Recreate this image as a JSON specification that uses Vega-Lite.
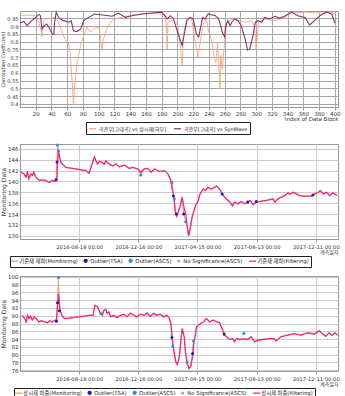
{
  "$schema": "https://vega.github.io/schema/vega-lite/v6.json",
  "padding": {"left": 0, "right": 4, "top": 9, "bottom": 0},
  "spacing": 37,
  "bounds": "flush",
  "datasets": {
    "corrA": [
      {"i": 0, "v": 0.967}, {"i": 7, "v": 0.97}, {"i": 15, "v": 0.97}, {"i": 20, "v": 0.965}, {"i": 23, "v": 0.935}, {"i": 26, "v": 0.893}, {"i": 28, "v": 0.83}, {"i": 30, "v": 0.925}, {"i": 34, "v": 0.946}, {"i": 38, "v": 0.95}, {"i": 45, "v": 0.956}, {"i": 49, "v": 0.925}, {"i": 53, "v": 0.87}, {"i": 58, "v": 0.807}, {"i": 62, "v": 0.785}, {"i": 64, "v": 0.71}, {"i": 66, "v": 0.561}, {"i": 68, "v": 0.39}, {"i": 69, "v": 0.497}, {"i": 72, "v": 0.647}, {"i": 77, "v": 0.775}, {"i": 81, "v": 0.839}, {"i": 85, "v": 0.893}, {"i": 89, "v": 0.86}, {"i": 95, "v": 0.886}, {"i": 100, "v": 0.893}, {"i": 102, "v": 0.839}, {"i": 104, "v": 0.743}, {"i": 106, "v": 0.817}, {"i": 110, "v": 0.88}, {"i": 115, "v": 0.925}, {"i": 121, "v": 0.946}, {"i": 129, "v": 0.956}, {"i": 142, "v": 0.97}, {"i": 159, "v": 0.978}, {"i": 176, "v": 0.984}, {"i": 184, "v": 0.967}, {"i": 186, "v": 0.9}, {"i": 187, "v": 0.753}, {"i": 188, "v": 0.925}, {"i": 193, "v": 0.935}, {"i": 199, "v": 0.925}, {"i": 203, "v": 0.817}, {"i": 206, "v": 0.647}, {"i": 208, "v": 0.86}, {"i": 212, "v": 0.946}, {"i": 218, "v": 0.95}, {"i": 222, "v": 0.817}, {"i": 226, "v": 0.7}, {"i": 229, "v": 0.796}, {"i": 232, "v": 0.903}, {"i": 237, "v": 0.946}, {"i": 239, "v": 0.88}, {"i": 244, "v": 0.796}, {"i": 247, "v": 0.69}, {"i": 249, "v": 0.668}, {"i": 251, "v": 0.796}, {"i": 253, "v": 0.604}, {"i": 254, "v": 0.5}, {"i": 255, "v": 0.71}, {"i": 257, "v": 0.625}, {"i": 260, "v": 0.796}, {"i": 263, "v": 0.925}, {"i": 269, "v": 0.946}, {"i": 277, "v": 0.935}, {"i": 286, "v": 0.925}, {"i": 294, "v": 0.935}, {"i": 298, "v": 0.893}, {"i": 300, "v": 0.753}, {"i": 303, "v": 0.925}, {"i": 311, "v": 0.946}, {"i": 324, "v": 0.935}, {"i": 336, "v": 0.956}, {"i": 345, "v": 0.984}, {"i": 362, "v": 0.99}, {"i": 379, "v": 0.984}, {"i": 396, "v": 0.99}, {"i": 400, "v": 0.978}
    ],
    "corrB": [
      {"i": 0, "v": 0.92}, {"i": 5, "v": 0.93}, {"i": 9, "v": 0.903}, {"i": 15, "v": 0.935}, {"i": 20, "v": 0.956}, {"i": 24, "v": 0.975}, {"i": 26, "v": 0.967}, {"i": 28, "v": 0.88}, {"i": 30, "v": 0.9}, {"i": 34, "v": 0.914}, {"i": 38, "v": 0.88}, {"i": 41, "v": 0.85}, {"i": 43, "v": 0.845}, {"i": 44, "v": 0.925}, {"i": 46, "v": 0.99}, {"i": 49, "v": 0.956}, {"i": 55, "v": 0.935}, {"i": 62, "v": 0.925}, {"i": 65, "v": 0.935}, {"i": 68, "v": 0.87}, {"i": 72, "v": 0.865}, {"i": 77, "v": 0.88}, {"i": 81, "v": 0.935}, {"i": 87, "v": 0.956}, {"i": 95, "v": 0.978}, {"i": 108, "v": 0.97}, {"i": 117, "v": 0.963}, {"i": 125, "v": 0.984}, {"i": 134, "v": 0.956}, {"i": 142, "v": 0.967}, {"i": 155, "v": 0.978}, {"i": 167, "v": 0.984}, {"i": 180, "v": 0.99}, {"i": 184, "v": 0.967}, {"i": 187, "v": 0.946}, {"i": 191, "v": 0.967}, {"i": 195, "v": 0.946}, {"i": 199, "v": 0.88}, {"i": 203, "v": 0.817}, {"i": 206, "v": 0.775}, {"i": 208, "v": 0.83}, {"i": 212, "v": 0.935}, {"i": 216, "v": 0.956}, {"i": 220, "v": 0.946}, {"i": 224, "v": 0.85}, {"i": 227, "v": 0.83}, {"i": 229, "v": 0.88}, {"i": 232, "v": 0.956}, {"i": 235, "v": 0.946}, {"i": 239, "v": 0.978}, {"i": 248, "v": 0.967}, {"i": 252, "v": 0.95}, {"i": 255, "v": 0.903}, {"i": 257, "v": 0.86}, {"i": 260, "v": 0.83}, {"i": 261, "v": 0.893}, {"i": 264, "v": 0.935}, {"i": 267, "v": 0.903}, {"i": 269, "v": 0.925}, {"i": 273, "v": 0.946}, {"i": 277, "v": 0.935}, {"i": 281, "v": 0.903}, {"i": 286, "v": 0.817}, {"i": 289, "v": 0.747}, {"i": 292, "v": 0.753}, {"i": 296, "v": 0.839}, {"i": 299, "v": 0.925}, {"i": 303, "v": 0.935}, {"i": 307, "v": 0.925}, {"i": 311, "v": 0.956}, {"i": 317, "v": 0.946}, {"i": 324, "v": 0.963}, {"i": 330, "v": 0.95}, {"i": 336, "v": 0.963}, {"i": 345, "v": 0.99}, {"i": 353, "v": 0.967}, {"i": 362, "v": 0.956}, {"i": 368, "v": 0.907}, {"i": 374, "v": 0.935}, {"i": 381, "v": 0.967}, {"i": 389, "v": 0.99}, {"i": 396, "v": 0.978}, {"i": 400, "v": 0.92}
    ],
    "mid": [
      {"d": "2016-04-21", "f": 141.8, "r": 141.8}, {"d": "2016-04-28", "f": 141.4, "r": 141.4}, {"d": "2016-05-02", "f": 140.8, "r": 140.8}, {"d": "2016-05-05", "f": 141.7, "r": 141.7}, {"d": "2016-05-08", "f": 140.5, "r": 140.5}, {"d": "2016-05-12", "f": 141.4, "r": 141.4}, {"d": "2016-05-15", "f": 141.1, "r": 141.1}, {"d": "2016-05-18", "f": 141.7, "r": 141.7}, {"d": "2016-05-22", "f": 140.8, "r": 140.8}, {"d": "2016-05-29", "f": 140.2, "r": 140.2}, {"d": "2016-06-04", "f": 140.3, "r": 140.3}, {"d": "2016-06-11", "f": 140.2, "r": 140.2}, {"d": "2016-06-18", "f": 139.8, "r": 139.8}, {"d": "2016-06-25", "f": 140.2, "r": 140.2}, {"d": "2016-06-28", "f": 140.0, "r": 140.0}, {"d": "2016-07-02", "f": 140.2, "r": 140.2}, {"d": "2016-07-04", "f": 140.4, "r": 143.6}, {"d": "2016-07-05", "f": 143.4, "r": 146.7}, {"d": "2016-07-07", "f": 145.4, "r": 145.6}, {"d": "2016-07-10", "f": 144.2, "r": 144.2}, {"d": "2016-07-12", "f": 143.5, "r": 143.5}, {"d": "2016-07-22", "f": 142.6, "r": 142.6}, {"d": "2016-09-01", "f": 142.0, "r": 142.0}, {"d": "2016-09-07", "f": 141.5, "r": 141.5}, {"d": "2016-09-18", "f": 144.5, "r": 144.5}, {"d": "2016-09-21", "f": 143.8, "r": 143.8}, {"d": "2016-09-24", "f": 143.2, "r": 143.2}, {"d": "2016-09-28", "f": 143.7, "r": 143.7}, {"d": "2016-10-04", "f": 143.5, "r": 143.5}, {"d": "2016-10-08", "f": 143.2, "r": 143.2}, {"d": "2016-10-11", "f": 143.8, "r": 143.8}, {"d": "2016-10-18", "f": 143.2, "r": 143.2}, {"d": "2016-10-25", "f": 142.9, "r": 142.9}, {"d": "2016-11-01", "f": 143.2, "r": 143.2}, {"d": "2016-11-07", "f": 142.7, "r": 142.7}, {"d": "2016-11-18", "f": 143.0, "r": 143.0}, {"d": "2016-11-28", "f": 142.4, "r": 142.4}, {"d": "2016-12-04", "f": 142.6, "r": 142.6}, {"d": "2016-12-15", "f": 142.3, "r": 142.3}, {"d": "2016-12-21", "f": 141.7, "r": 141.2}, {"d": "2016-12-28", "f": 142.3, "r": 142.3}, {"d": "2017-01-04", "f": 142.4, "r": 142.4}, {"d": "2017-01-11", "f": 141.7, "r": 141.7}, {"d": "2017-01-18", "f": 142.3, "r": 142.3}, {"d": "2017-01-28", "f": 141.8, "r": 141.8}, {"d": "2017-02-07", "f": 142.0, "r": 142.0}, {"d": "2017-02-14", "f": 141.4, "r": 141.4}, {"d": "2017-02-17", "f": 140.8, "r": 140.8}, {"d": "2017-02-20", "f": 140.2, "r": 140.2}, {"d": "2017-02-22", "f": 138.9, "r": 139.8}, {"d": "2017-02-25", "f": 137.7, "r": 137.7}, {"d": "2017-02-27", "f": 136.2, "r": 136.8}, {"d": "2017-03-01", "f": 134.4, "r": 134.4}, {"d": "2017-03-04", "f": 133.6, "r": 133.6}, {"d": "2017-03-07", "f": 134.4, "r": 134.4}, {"d": "2017-03-11", "f": 135.5, "r": 135.5}, {"d": "2017-03-15", "f": 137.1, "r": 137.1}, {"d": "2017-03-18", "f": 135.5, "r": 134.0}, {"d": "2017-03-22", "f": 134.0, "r": 132.6}, {"d": "2017-03-25", "f": 131.9, "r": 131.9}, {"d": "2017-03-28", "f": 130.0, "r": 130.0}, {"d": "2017-03-31", "f": 131.2, "r": 131.2}, {"d": "2017-04-04", "f": 133.4, "r": 133.4}, {"d": "2017-04-08", "f": 134.6, "r": 134.6}, {"d": "2017-04-12", "f": 135.8, "r": 135.8}, {"d": "2017-04-16", "f": 136.3, "r": 136.3}, {"d": "2017-04-19", "f": 137.4, "r": 137.4}, {"d": "2017-04-22", "f": 138.0, "r": 138.0}, {"d": "2017-04-27", "f": 138.6, "r": 138.6}, {"d": "2017-05-01", "f": 138.3, "r": 138.3}, {"d": "2017-05-06", "f": 138.9, "r": 138.9}, {"d": "2017-05-13", "f": 138.6, "r": 138.6}, {"d": "2017-05-20", "f": 138.9, "r": 138.9}, {"d": "2017-05-24", "f": 139.2, "r": 139.2}, {"d": "2017-05-30", "f": 138.6, "r": 138.6}, {"d": "2017-06-04", "f": 137.7, "r": 137.7}, {"d": "2017-06-09", "f": 137.1, "r": 137.1}, {"d": "2017-06-16", "f": 136.5, "r": 136.5}, {"d": "2017-06-20", "f": 136.2, "r": 136.2}, {"d": "2017-06-25", "f": 135.5, "r": 135.5}, {"d": "2017-06-29", "f": 136.2, "r": 136.2}, {"d": "2017-07-06", "f": 135.9, "r": 135.9}, {"d": "2017-07-13", "f": 136.3, "r": 136.3}, {"d": "2017-07-20", "f": 135.9, "r": 135.9}, {"d": "2017-07-26", "f": 136.2, "r": 136.2}, {"d": "2017-07-31", "f": 136.5, "r": 136.5}, {"d": "2017-08-06", "f": 135.7, "r": 135.7}, {"d": "2017-08-12", "f": 136.2, "r": 136.2}, {"d": "2017-09-02", "f": 136.5, "r": 136.5}, {"d": "2017-09-15", "f": 136.8, "r": 136.8}, {"d": "2017-09-19", "f": 136.2, "r": 136.2}, {"d": "2017-09-25", "f": 136.8, "r": 136.8}, {"d": "2017-10-09", "f": 137.4, "r": 137.4}, {"d": "2017-10-16", "f": 137.9, "r": 137.9}, {"d": "2017-10-19", "f": 137.6, "r": 137.6}, {"d": "2017-10-26", "f": 138.0, "r": 138.0}, {"d": "2017-11-02", "f": 137.7, "r": 137.7}, {"d": "2017-11-08", "f": 137.4, "r": 137.4}, {"d": "2017-11-15", "f": 137.3, "r": 137.3}, {"d": "2017-12-02", "f": 137.3, "r": 137.3}, {"d": "2017-12-09", "f": 137.7, "r": 137.7}, {"d": "2017-12-16", "f": 138.0, "r": 138.0}, {"d": "2017-12-20", "f": 138.3, "r": 138.3}, {"d": "2017-12-26", "f": 137.7, "r": 137.7}, {"d": "2018-01-02", "f": 138.0, "r": 138.0}, {"d": "2018-01-08", "f": 137.4, "r": 137.4}, {"d": "2018-01-15", "f": 137.9, "r": 137.9}, {"d": "2018-01-23", "f": 137.4, "r": 137.4}
    ],
    "midOut": [
      {"d": "2016-07-02", "v": 140.3, "s": "Outlier(TSA)"}, {"d": "2016-07-04", "v": 143.6, "s": "Outlier(TSA)"}, {"d": "2016-07-05", "v": 146.7, "s": "Outlier(ASCS)"}, {"d": "2016-07-07", "v": 145.6, "s": "Outlier(ASCS)"}, {"d": "2016-12-21", "v": 141.2, "s": "Outlier(ASCS)"}, {"d": "2017-02-22", "v": 139.8, "s": "Outlier(ASCS)"}, {"d": "2017-02-25", "v": 137.3, "s": "Outlier(TSA)"}, {"d": "2017-02-27", "v": 136.8, "s": "Outlier(ASCS)"}, {"d": "2017-03-03", "v": 134.0, "s": "Outlier(TSA)"}, {"d": "2017-03-18", "v": 134.0, "s": "Outlier(TSA)"}, {"d": "2017-03-22", "v": 132.6, "s": "Outlier(ASCS)"}, {"d": "2017-06-04", "v": 137.7, "s": "Outlier(TSA)"}, {"d": "2017-07-26", "v": 136.2, "s": "Outlier(TSA)"}, {"d": "2017-08-12", "v": 136.3, "s": "Outlier(TSA)"}, {"d": "2017-12-05", "v": 137.5, "s": "Outlier(TSA)"}
    ],
    "bot": [
      {"d": "2016-04-25", "f": 90.1, "r": 90.1}, {"d": "2016-04-27", "f": 89.7, "r": 89.7}, {"d": "2016-05-01", "f": 88.9, "r": 88.9}, {"d": "2016-05-03", "f": 88.2, "r": 88.2}, {"d": "2016-05-05", "f": 90.1, "r": 90.1}, {"d": "2016-05-08", "f": 89.3, "r": 89.3}, {"d": "2016-05-11", "f": 89.9, "r": 89.9}, {"d": "2016-05-15", "f": 88.9, "r": 88.9}, {"d": "2016-05-19", "f": 89.7, "r": 89.7}, {"d": "2016-05-23", "f": 89.3, "r": 89.3}, {"d": "2016-05-28", "f": 88.4, "r": 88.4}, {"d": "2016-06-02", "f": 88.7, "r": 88.7}, {"d": "2016-06-09", "f": 88.4, "r": 88.4}, {"d": "2016-06-15", "f": 88.2, "r": 88.2}, {"d": "2016-06-19", "f": 88.7, "r": 88.7}, {"d": "2016-06-24", "f": 88.4, "r": 88.4}, {"d": "2016-07-01", "f": 88.9, "r": 88.9}, {"d": "2016-07-03", "f": 89.0, "r": 88.6}, {"d": "2016-07-05", "f": 92.3, "r": 93.3}, {"d": "2016-07-07", "f": 95.7, "r": 99.8}, {"d": "2016-07-09", "f": 93.1, "r": 91.3}, {"d": "2016-07-11", "f": 91.0, "r": 91.0}, {"d": "2016-07-14", "f": 90.1, "r": 90.1}, {"d": "2016-07-19", "f": 89.3, "r": 89.3}, {"d": "2016-07-29", "f": 89.4, "r": 89.4}, {"d": "2016-08-18", "f": 89.7, "r": 89.7}, {"d": "2016-09-07", "f": 90.1, "r": 90.1}, {"d": "2016-09-15", "f": 90.1, "r": 90.1}, {"d": "2016-09-19", "f": 92.7, "r": 92.7}, {"d": "2016-09-24", "f": 92.3, "r": 92.3}, {"d": "2016-09-29", "f": 91.0, "r": 91.0}, {"d": "2016-10-04", "f": 90.1, "r": 90.1}, {"d": "2016-10-07", "f": 91.4, "r": 91.4}, {"d": "2016-10-11", "f": 91.6, "r": 91.6}, {"d": "2016-10-14", "f": 90.6, "r": 90.6}, {"d": "2016-10-17", "f": 91.0, "r": 91.0}, {"d": "2016-10-21", "f": 89.7, "r": 89.7}, {"d": "2016-10-27", "f": 90.1, "r": 90.1}, {"d": "2016-11-03", "f": 89.5, "r": 89.5}, {"d": "2016-11-10", "f": 90.1, "r": 90.1}, {"d": "2016-11-17", "f": 90.4, "r": 90.4}, {"d": "2016-11-23", "f": 89.7, "r": 89.7}, {"d": "2016-11-30", "f": 90.7, "r": 90.7}, {"d": "2016-12-07", "f": 90.1, "r": 90.1}, {"d": "2016-12-13", "f": 89.7, "r": 89.7}, {"d": "2016-12-20", "f": 90.4, "r": 90.4}, {"d": "2016-12-27", "f": 90.1, "r": 90.1}, {"d": "2017-01-03", "f": 90.7, "r": 90.7}, {"d": "2017-01-09", "f": 89.8, "r": 89.8}, {"d": "2017-01-16", "f": 90.6, "r": 90.6}, {"d": "2017-01-23", "f": 90.1, "r": 90.1}, {"d": "2017-01-29", "f": 90.4, "r": 90.4}, {"d": "2017-02-05", "f": 89.7, "r": 89.7}, {"d": "2017-02-12", "f": 90.1, "r": 90.1}, {"d": "2017-02-17", "f": 89.3, "r": 89.3}, {"d": "2017-02-20", "f": 88.0, "r": 88.0}, {"d": "2017-02-22", "f": 85.4, "r": 84.4}, {"d": "2017-02-24", "f": 82.9, "r": 82.2}, {"d": "2017-02-27", "f": 80.3, "r": 80.3}, {"d": "2017-03-02", "f": 78.1, "r": 78.1}, {"d": "2017-03-05", "f": 77.5, "r": 77.5}, {"d": "2017-03-09", "f": 79.4, "r": 79.4}, {"d": "2017-03-12", "f": 83.3, "r": 83.3}, {"d": "2017-03-15", "f": 86.7, "r": 86.7}, {"d": "2017-03-19", "f": 84.6, "r": 84.6}, {"d": "2017-03-22", "f": 80.3, "r": 80.3}, {"d": "2017-03-25", "f": 77.7, "r": 78.1}, {"d": "2017-03-29", "f": 76.4, "r": 76.4}, {"d": "2017-04-01", "f": 76.9, "r": 76.9}, {"d": "2017-04-05", "f": 79.4, "r": 80.3}, {"d": "2017-04-07", "f": 82.4, "r": 83.5}, {"d": "2017-04-10", "f": 84.6, "r": 84.6}, {"d": "2017-04-13", "f": 87.1, "r": 87.1}, {"d": "2017-04-17", "f": 87.6, "r": 87.6}, {"d": "2017-04-22", "f": 88.0, "r": 88.0}, {"d": "2017-04-27", "f": 88.4, "r": 88.4}, {"d": "2017-05-03", "f": 89.3, "r": 89.3}, {"d": "2017-05-10", "f": 88.4, "r": 88.4}, {"d": "2017-05-17", "f": 88.9, "r": 88.9}, {"d": "2017-05-24", "f": 88.4, "r": 88.4}, {"d": "2017-05-30", "f": 88.2, "r": 88.2}, {"d": "2017-06-04", "f": 86.7, "r": 86.7}, {"d": "2017-06-08", "f": 85.0, "r": 85.3}, {"d": "2017-06-13", "f": 84.6, "r": 84.6}, {"d": "2017-06-19", "f": 83.9, "r": 83.9}, {"d": "2017-06-26", "f": 84.1, "r": 84.1}, {"d": "2017-06-29", "f": 83.3, "r": 83.3}, {"d": "2017-07-03", "f": 84.1, "r": 84.1}, {"d": "2017-07-10", "f": 83.9, "r": 83.9}, {"d": "2017-07-16", "f": 84.1, "r": 84.1}, {"d": "2017-07-26", "f": 83.9, "r": 83.9}, {"d": "2017-08-02", "f": 84.6, "r": 84.6}, {"d": "2017-08-09", "f": 83.3, "r": 83.3}, {"d": "2017-08-15", "f": 83.7, "r": 83.7}, {"d": "2017-09-05", "f": 84.1, "r": 84.1}, {"d": "2017-09-18", "f": 84.1, "r": 84.1}, {"d": "2017-09-21", "f": 83.5, "r": 83.5}, {"d": "2017-10-01", "f": 84.6, "r": 84.6}, {"d": "2017-10-15", "f": 85.0, "r": 85.0}, {"d": "2017-10-28", "f": 85.4, "r": 85.4}, {"d": "2017-11-11", "f": 85.0, "r": 85.0}, {"d": "2017-11-24", "f": 85.6, "r": 85.6}, {"d": "2017-12-08", "f": 85.3, "r": 85.3}, {"d": "2017-12-18", "f": 86.1, "r": 86.1}, {"d": "2017-12-24", "f": 85.4, "r": 85.4}, {"d": "2017-12-31", "f": 84.7, "r": 84.7}, {"d": "2018-01-07", "f": 85.6, "r": 85.6}, {"d": "2018-01-13", "f": 85.0, "r": 85.0}, {"d": "2018-01-19", "f": 85.6, "r": 85.6}, {"d": "2018-01-24", "f": 85.0, "r": 85.0}
    ],
    "botOut": [
      {"d": "2016-07-03", "v": 88.6, "s": "Outlier(TSA)"}, {"d": "2016-07-05", "v": 93.3, "s": "Outlier(TSA)"}, {"d": "2016-07-07", "v": 99.8, "s": "Outlier(ASCS)"}, {"d": "2016-07-09", "v": 91.3, "s": "Outlier(TSA)"}, {"d": "2016-10-01", "v": 90.6, "s": "Outlier(ASCS)"}, {"d": "2017-02-22", "v": 84.4, "s": "Outlier(TSA)"}, {"d": "2017-02-24", "v": 82.2, "s": "Outlier(ASCS)"}, {"d": "2017-03-25", "v": 78.1, "s": "Outlier(ASCS)"}, {"d": "2017-04-05", "v": 80.3, "s": "Outlier(TSA)"}, {"d": "2017-04-07", "v": 83.5, "s": "Outlier(ASCS)"}, {"d": "2017-06-08", "v": 85.3, "s": "Outlier(TSA)"}, {"d": "2017-07-18", "v": 85.4, "s": "Outlier(ASCS)"}
    ]
  },
  "vconcat": [
    {
      "width": 318,
      "height": 96,
      "encoding": {
        "x": {"field": "i", "type": "quantitative", "scale": {"domain": [0, 404], "nice": false, "zero": false},
              "axis": {"values": [20,40,60,80,100,120,140,160,180,200,220,240,260,280,300,320,340,360,380,400], "title": "Index of Data Block", "titleAnchor": "end", "titlePadding": 0, "gridColor": "#a8a8a8", "labelPadding": 1, "labelFontSize": 5.5, "titleFontSize": 5.5}},
        "y": {"field": "v", "type": "quantitative", "scale": {"domain": [0.38, 0.997], "nice": false, "zero": false},
              "axis": {"values": [0.4,0.45,0.5,0.55,0.6,0.65,0.7,0.75,0.8,0.85,0.9,0.95], "format": "~g", "title": "Correlation Coefficient", "gridColor": "#a8a8a8", "titlePadding": 1, "labelPadding": 1, "labelFontSize": 5, "titleFontSize": 5, "tickSize": 1}}
      },
      "layer": [
        {"data": {"name": "corrA"}, "mark": {"type": "line", "strokeWidth": 0.9},
         "encoding": {"color": {"datum": "곡관부[고대곡] vs 상시재[하부]", "type": "nominal",
            "scale": {"domain": ["곡관부[고대곡] vs 상시재[하부]", "곡관부[고대곡] vs SynWave"], "range": ["#f5a679", "#8b2f6e"]},
            "legend": {"orient": "none", "legendX": 66, "legendY": 111, "direction": "horizontal", "title": null, "symbolType": "stroke", "symbolSize": 50, "symbolStrokeWidth": 1.2, "strokeColor": "#222", "padding": 2, "labelFontSize": 5, "columnPadding": 4}}}},
        {"data": {"name": "corrB"}, "mark": {"type": "line", "strokeWidth": 1.1},
         "encoding": {"color": {"datum": "곡관부[고대곡] vs SynWave", "type": "nominal"}}}
      ]
    },
    {
      "width": 318,
      "height": 95,
      "encoding": {
        "x": {"field": "d", "type": "temporal", "scale": {"type": "utc", "domain": [{"year": 2016, "month": 4, "date": 20, "utc": true}, {"year": 2018, "month": 1, "date": 25, "utc": true}]},
              "axis": {"values": [{"year": 2016, "month": 8, "date": 18, "utc": true}, {"year": 2016, "month": 12, "date": 16, "utc": true}, {"year": 2017, "month": 4, "date": 15, "utc": true}, {"year": 2017, "month": 8, "date": 13, "utc": true}, {"year": 2017, "month": 12, "date": 11, "utc": true}],
                       "format": "%Y-%m-%d %H:%M", "title": "계측일자", "titleAnchor": "end", "titlePadding": 0, "labelFontSize": 5.2, "labelPadding": 2, "titleFontSize": 5, "grid": true, "gridColor": "#cccccc"}},
        "y": {"field": "v", "type": "quantitative", "scale": {"domain": [129.4, 146.9], "nice": false, "zero": false},
              "axis": {"values": [130,132,134,136,138,140,142,144,146], "title": "Monitoring Data", "titlePadding": 1, "labelPadding": 1, "labelFontSize": 5.5, "tickSize": 1, "grid": true, "gridColor": "#cccccc"}},
        "color": {"field": "s", "type": "nominal",
          "scale": {"domain": ["r", "Outlier(TSA)", "Outlier(ASCS)", "No Significance(ASCS)", "f"], "range": ["#f49b62", "#1c1cb0", "#2b8fd6", "#aaaaaa", "#f5287d"]},
          "legend": {"orient": "none", "legendX": -10, "legendY": 112, "direction": "horizontal", "title": null, "strokeColor": "#222", "padding": 2, "labelFontSize": 5.3, "columnPadding": 3, "symbolStrokeWidth": 1.3,
            "symbolType": {"expr": "datum.value == 'r' || datum.value == 'f' ? 'stroke' : 'circle'"},
            "symbolSize": {"expr": "datum.value == 'r' || datum.value == 'f' ? 50 : datum.value == 'No Significance(ASCS)' ? 3 : 9"},
            "labelExpr": "datum.value == 'r' ? '기준재 재하(Monitoring)' : datum.value == 'f' ? '기준재 재하(Filtering)' : datum.label"}}
      },
      "layer": [
        {"data": {"name": "mid"}, "transform": [{"fold": ["r"], "as": ["s", "v"]}], "mark": {"type": "line", "strokeWidth": 1}},
        {"data": {"name": "mid"}, "transform": [{"fold": ["f"], "as": ["s", "v"]}], "mark": {"type": "line", "strokeWidth": 1.3}},
        {"data": {"name": "midOut"}, "mark": {"type": "point", "filled": true, "size": 9, "opacity": 1}}
      ]
    },
    {
      "width": 318,
      "height": 95,
      "encoding": {
        "x": {"field": "d", "type": "temporal", "scale": {"type": "utc", "domain": [{"year": 2016, "month": 4, "date": 20, "utc": true}, {"year": 2018, "month": 1, "date": 25, "utc": true}]},
              "axis": {"values": [{"year": 2016, "month": 8, "date": 18, "utc": true}, {"year": 2016, "month": 12, "date": 16, "utc": true}, {"year": 2017, "month": 4, "date": 15, "utc": true}, {"year": 2017, "month": 8, "date": 13, "utc": true}, {"year": 2017, "month": 12, "date": 11, "utc": true}],
                       "format": "%Y-%m-%d %H:%M", "title": "계측일자", "titleAnchor": "end", "titlePadding": 0, "labelFontSize": 5.2, "labelPadding": 2, "titleFontSize": 5, "grid": true, "gridColor": "#cccccc"}},
        "y": {"field": "v", "type": "quantitative", "scale": {"domain": [75.8, 100.2], "nice": false, "zero": false},
              "axis": {"values": [76,78,80,82,84,86,88,90,92,94,96,98,100], "title": "Monitoring Data", "titlePadding": 1, "labelPadding": 1, "labelFontSize": 5.5, "tickSize": 1, "grid": true, "gridColor": "#cccccc"}},
        "color": {"field": "s", "type": "nominal",
          "scale": {"domain": ["r", "Outlier(TSA)", "Outlier(ASCS)", "No Significance(ASCS)", "f"], "range": ["#f49b62", "#1c1cb0", "#2b8fd6", "#aaaaaa", "#f5287d"]},
          "legend": {"orient": "none", "legendX": -6, "legendY": 112, "direction": "horizontal", "title": null, "strokeColor": "#222", "padding": 2, "labelFontSize": 5.3, "columnPadding": 3, "symbolStrokeWidth": 1.3,
            "symbolType": {"expr": "datum.value == 'r' || datum.value == 'f' ? 'stroke' : 'circle'"},
            "symbolSize": {"expr": "datum.value == 'r' || datum.value == 'f' ? 50 : datum.value == 'No Significance(ASCS)' ? 3 : 9"},
            "labelExpr": "datum.value == 'r' ? '상시재 하중(Monitoring)' : datum.value == 'f' ? '상시재 하중(Filtering)' : datum.label"}}
      },
      "layer": [
        {"data": {"name": "bot"}, "transform": [{"fold": ["r"], "as": ["s", "v"]}], "mark": {"type": "line", "strokeWidth": 1}},
        {"data": {"name": "bot"}, "transform": [{"fold": ["f"], "as": ["s", "v"]}], "mark": {"type": "line", "strokeWidth": 1.3}},
        {"data": {"name": "botOut"}, "mark": {"type": "point", "filled": true, "size": 9, "opacity": 1}}
      ]
    }
  ],
  "resolve": {"scale": {"color": "independent", "x": "independent", "y": "independent"}, "legend": {"color": "independent"}},
  "config": {
    "font": "DejaVu Sans, Noto Sans CJK KR",
    "view": {"stroke": "#9a9a9a"},
    "axis": {"labelFontSize": 6, "titleFontSize": 6, "titleFontWeight": "normal", "labelColor": "#333", "titleColor": "#333", "tickSize": 3, "domainColor": "#9a9a9a", "tickColor": "#9a9a9a", "gridColor": "#d2d2d2", "grid": true},
    "legend": {"labelColor": "#222", "labelLimit": 200, "labelOffset": 2, "padding": 2}
  }
}
